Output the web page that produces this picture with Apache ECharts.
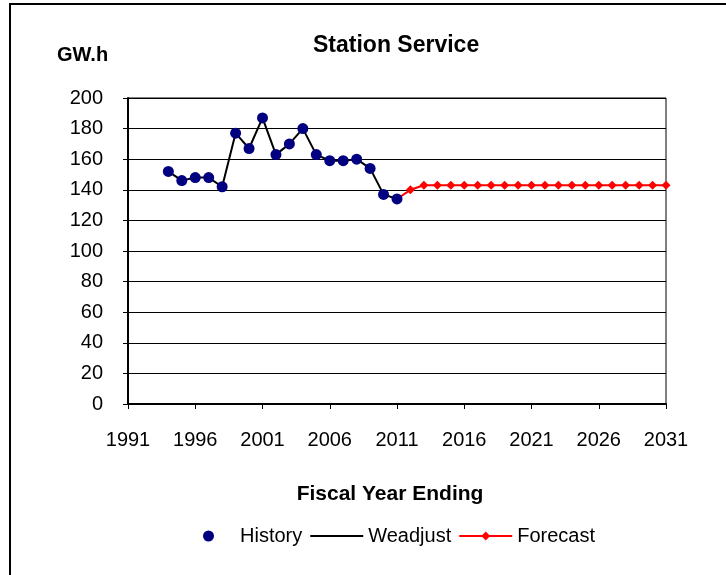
<!DOCTYPE html>
<html>
<head>
<meta charset="utf-8">
<script src="https://cdn.jsdelivr.net/npm/echarts@6/dist/echarts.min.js"></script>
<style>
  html, body { margin: 0; padding: 0; background: #fff; }
  #chart { width: 726px; height: 575px; }
</style>
</head>
<body>
<div id="chart"></div>
<script>
// 数据
var historyYears = [1994, 1995, 1996, 1997, 1998, 1999, 2000, 2001, 2002, 2003, 2004, 2005, 2006, 2007, 2008, 2009, 2010, 2011];
var historyValues = [152, 146, 148, 148, 142, 177, 167, 187, 163, 170, 180, 163, 159, 159, 160, 154, 137, 134];
var forecastYears = [2011, 2012, 2013, 2014, 2015, 2016, 2017, 2018, 2019, 2020, 2021, 2022, 2023, 2024, 2025, 2026, 2027, 2028, 2029, 2030, 2031];
var forecastValues = [134, 140, 143, 143, 143, 143, 143, 143, 143, 143, 143, 143, 143, 143, 143, 143, 143, 143, 143, 143, 143];

var font = "'Liberation Sans', Arial, sans-serif";

function pairs(xs, ys) {
  return xs.map(function(x, i) { return [x, ys[i]]; });
}

var chart = echarts.init(document.getElementById("chart"));
var option = {
  backgroundColor: "#fff",
  animation: false,
  textStyle: { fontFamily: font, color: "#000" },
  title: [
    {
      text: "Station Service",
      left: 308,
      top: 29,
      textStyle: { fontFamily: font, fontSize: 23, fontWeight: "bold", color: "#000" }
    },
    {
      text: "GW.h",
      left: 52,
      top: 40,
      textStyle: { fontFamily: font, fontSize: 20, fontWeight: "bold", color: "#000" }
    }
  ],
  // 外框
  graphic: [
    {
      type: "rect",
      shape: { x: 10, y: 4, width: 740, height: 600 },
      style: { fill: "none", stroke: "#000", lineWidth: 2 },
      silent: true
    }
  ],
  grid: {
    left: 128,
    top: 98,
    width: 538,
    height: 306,
    show: true,
    borderColor: "#000",
    borderWidth: 1
  },
  legend: {
    left: 198,
    top: 521,
    itemWidth: 53,
    itemHeight: 11,
    itemGap: 7,
    data: [
      { name: "History" },
      { name: "Weadjust", itemStyle: { opacity: 0 } },
      { name: "Forecast" }
    ],
    textStyle: { fontFamily: font, fontSize: 20, color: "#000" }
  },
  xAxis: {
    type: "value",
    min: 1991,
    max: 2031,
    interval: 5,
    name: "Fiscal Year Ending",
    nameLocation: "middle",
    nameGap: 80,
    nameTextStyle: { fontFamily: font, fontSize: 21, fontWeight: "bold", color: "#000", padding: [0, 14, 0, 0] },
    axisLine: { lineStyle: { color: "#000", width: 2 } },
    axisTick: { show: true, length: 5, inside: false, lineStyle: { color: "#000", width: 1 } },
    axisLabel: {
      margin: 26,
      fontFamily: font,
      fontSize: 20,
      color: "#000",
      formatter: function(v) { return String(v); }
    },
    splitLine: { show: false }
  },
  yAxis: {
    type: "value",
    min: 0,
    max: 200,
    interval: 20,
    axisLine: { show: true, lineStyle: { color: "#000", width: 2 } },
    axisTick: { show: true, length: 5, inside: false, lineStyle: { color: "#000", width: 1 } },
    axisLabel: { margin: 25, fontFamily: font, fontSize: 20, color: "#000" },
    splitLine: { show: true, lineStyle: { color: "#000", width: 1 } }
  },
  series: [
    {
      name: "Weadjust",
      type: "line",
      data: pairs(historyYears, historyValues),
      symbol: "none",
      lineStyle: { color: "#000", width: 2 },
      itemStyle: { color: "#000" },
      z: 2
    },
    {
      name: "Forecast",
      type: "line",
      data: pairs(forecastYears, forecastValues),
      symbol: "diamond",
      symbolSize: 9,
      showAllSymbol: true,
      lineStyle: { color: "#ff0000", width: 2 },
      itemStyle: { color: "#ff0000" },
      z: 3
    },
    {
      name: "History",
      type: "scatter",
      data: pairs(historyYears, historyValues),
      symbol: "circle",
      symbolSize: 11,
      itemStyle: { color: "#000080", opacity: 1 },
      z: 4
    }
  ]
};
chart.setOption(option);
</script>
</body>
</html>
